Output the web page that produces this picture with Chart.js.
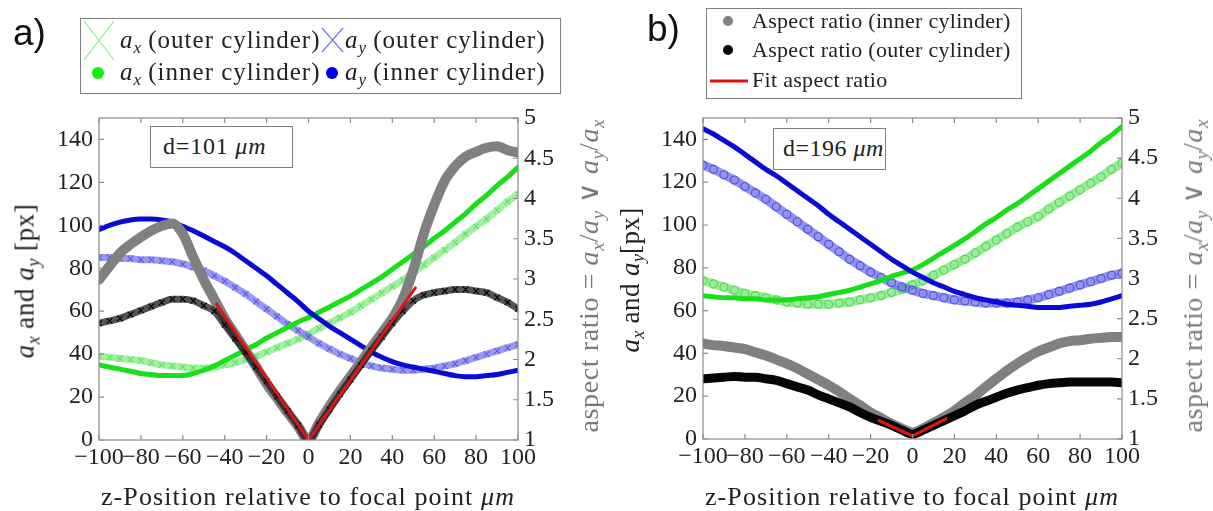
<!DOCTYPE html>
<html><head><meta charset="utf-8">
<script src="https://cdn.jsdelivr.net/npm/chart.js@4.4.1/dist/chart.umd.min.js"></script>
<style>
body{margin:0;background:#fff;}
#wrap{position:relative;width:1213px;height:511px;overflow:hidden;background:#fff;font-family:'Liberation Serif',serif;color:#222;}
canvas{position:absolute;top:0;}
.lab{position:absolute;font-family:'Liberation Sans',Arial,sans-serif;font-size:37px;color:#111;line-height:1;}
.box{position:absolute;border:1px solid #808080;background:#fff;}
.t{position:absolute;white-space:nowrap;font-size:25px;letter-spacing:1px;line-height:1;}
.tb{position:absolute;white-space:nowrap;font-size:22px;letter-spacing:0.3px;line-height:1;}
sub{font-size:68%;vertical-align:-0.3em;line-height:0;letter-spacing:0;}
.yt{position:absolute;white-space:nowrap;font-size:28px;letter-spacing:0.6px;line-height:1;transform:translate(-50%,-50%) rotate(-90deg);}
.xt{position:absolute;white-space:nowrap;font-size:26px;letter-spacing:1.1px;line-height:1;transform:translate(-50%,-50%);}
svg{position:absolute;overflow:visible;}
</style>
</head><body>
<div id="wrap">
  <canvas id="ca" width="606" height="511" style="left:0"></canvas>
  <canvas id="cb" width="607" height="511" style="left:606px"></canvas>

  <div class="lab" style="left:13px;top:14px">a)</div>
  <div class="lab" style="left:647px;top:10px">b)</div>

  <!-- legend a -->
  <div class="box" style="left:80px;top:18px;width:479px;height:74px"></div>
  <div class="t" style="left:120px;top:27px"><i>a</i><sub><i>x</i></sub> (outer cylinder)</div>
  <div class="t" style="left:345px;top:27px"><i>a</i><sub><i>y</i></sub> (outer cylinder)</div>
  <div class="t" style="left:120px;top:59px"><i>a</i><sub><i>x</i></sub> (inner cylinder)</div>
  <div class="t" style="left:345px;top:59px"><i>a</i><sub><i>y</i></sub> (inner cylinder)</div>

  <!-- legend b -->
  <div class="box" style="left:706px;top:8px;width:314px;height:89px"></div>
  <div class="tb" style="left:752px;top:10px">Aspect ratio (inner cylinder)</div>
  <div class="tb" style="left:752px;top:39px">Aspect ratio (outer cylinder)</div>
  <div class="tb" style="left:752px;top:69px">Fit aspect ratio</div>

  <!-- annotations -->
  <div class="box" style="left:150px;top:126px;width:141px;height:40px"></div>
  <div class="t" style="left:163px;top:134px;font-size:24px;letter-spacing:0.8px">d=101 <i>μm</i></div>
  <div class="box" style="left:773px;top:128px;width:111px;height:40px"></div>
  <div class="t" style="left:783px;top:136px;font-size:24px;letter-spacing:0.5px">d=196 <i>μm</i></div>

  <!-- axis titles -->
  <div class="xt" style="left:308px;top:497px">z-Position relative to focal point <i>μm</i></div>
  <div class="xt" style="left:912px;top:497px">z-Position relative to focal point <i>μm</i></div>
  <div class="yt" style="left:25px;top:281px;font-size:27px;letter-spacing:0.6px"><i>a</i><sub><i>x</i></sub> and <i>a</i><sub><i>y</i></sub> [px]</div>
  <div class="yt" style="left:630px;top:280px;font-size:27px;letter-spacing:0.4px"><i>a</i><sub><i>x</i></sub> and <i>a</i><sub><i>y</i></sub>[px]</div>
  <div class="yt" style="left:589px;top:276px;color:#7a7a7a">aspect ratio = <i>a</i><sub><i>x</i></sub>/<i>a</i><sub><i>y</i></sub> ∨ <i>a</i><sub><i>y</i></sub>/<i>a</i><sub><i>x</i></sub></div>
  <div class="yt" style="left:1193px;top:276px;color:#7a7a7a">aspect ratio = <i>a</i><sub><i>x</i></sub>/<i>a</i><sub><i>y</i></sub> ∨ <i>a</i><sub><i>y</i></sub>/<i>a</i><sub><i>x</i></sub></div>

  <svg style="left:0;top:0" width="1" height="1">
    <path d="M84 21 L114 60 M84 60 L114 21" stroke="#86ec86" stroke-width="1.2" fill="none"/>
    <path d="M322 28 L343 52 M322 52 L343 28" stroke="#7777ee" stroke-width="1.2" fill="none"/>
    <circle cx="98" cy="73" r="6" fill="#11ee11"/>
    <circle cx="332" cy="73" r="6" fill="#0000ee"/>
    <circle cx="728" cy="21" r="5" fill="#808080"/>
    <circle cx="728" cy="50" r="5" fill="#000"/>
    <path d="M710 81 L748 81" stroke="#e01010" stroke-width="3"/>
  </svg>
</div>
<script>
// ---- categories / ticks ----
const Z = [-100,-95,-90,-85,-80,-75,-70,-65,-60,-55,-50,-45,-40,-35,-30,-25,-20,-15,-10,-5,0,5,10,15,20,25,30,35,40,45,50,55,60,65,70,75,80,85,90,95,100];
const X_TICKS = [-100,-80,-60,-40,-20,0,20,40,60,80,100];
const X_TICK_LABELS = ['\u2212100','\u221280','\u221260','\u221240','\u221220','0','20','40','60','80','100'];
const Y_TICKS = [0,20,40,60,80,100,120,140];
const Y_TICK_LABELS = ['0','20','40','60','80','100','120','140'];
const AR_TICKS = [1,1.5,2,2.5,3,3.5,4,4.5,5];
const AR_TICK_LABELS = ['1','1.5','2','2.5','3','3.5','4','4.5','5'];

// ---- panel a (d=101 um) ----
const A_AX_INNER = [35,34,33,32,31,30.5,30,30,30,31,32.5,34.5,37,39.5,42,44.5,47.5,50,52.5,55,57,59.5,62,64.5,67,70,73,76,79.5,83,86.5,90,94,97.5,101.5,105.5,110,114,118.5,122.5,127];
const A_AX_OUTER = [39,38.5,38,37.5,37,36,35,34.5,34,33.5,33.5,34,35,36,37.5,39,41,43,45,47,49.5,52,54.5,57,59.5,62.5,65.5,68.5,71.5,74.5,78,81.5,85,88.5,92,96,99.5,103,107,111,114.5];
const A_AY_INNER = [98,100,101.5,102.5,103,103,102.5,101.5,99.5,97.5,95,92.5,90,87,83.5,80,76.5,72.5,68.5,64.5,60,56.5,53,50,47,44,41,38.5,36.5,35,34,33,32,31,30,29.5,29.5,30,30.5,31.5,32.5];
const A_AY_OUTER = [85,85,84.5,84.5,84,84,83.5,83,82,80.5,79,76.5,74,71,68,64.5,61,57.5,54,51,48,45,42.5,40,38,36,34.5,33.5,33,32.5,32.5,33,33.5,34.5,35.5,37,38.5,40,41.5,43,44.5];
const A_AR_INNER = [2.99,3.16,3.32,3.43,3.52,3.60,3.66,3.69,3.56,3.27,2.99,2.75,2.51,2.31,2.11,1.91,1.70,1.52,1.34,1.17,1.0,1.21,1.42,1.61,1.79,1.97,2.15,2.33,2.51,2.75,3.11,3.56,3.92,4.22,4.40,4.52,4.58,4.63,4.65,4.60,4.57];
const A_AR_OUTER = [2.45,2.48,2.51,2.56,2.61,2.66,2.71,2.75,2.75,2.73,2.67,2.6,2.43,2.26,2.09,1.91,1.73,1.54,1.36,1.18,1.0,1.19,1.38,1.57,1.75,1.93,2.11,2.28,2.45,2.6,2.73,2.80,2.83,2.85,2.87,2.87,2.85,2.83,2.77,2.71,2.63];
const A_FIT_Z = [-44,0,51];
const A_FIT_AR = [2.69,1.0,2.89];

// ---- panel b (d=196 um) ----
const B_AX_INNER = [67,66.5,66,66,65.5,65.5,65,65,65,65.5,66,66.5,67.5,68.5,69.5,71,72.5,74,76,77.5,79,81.5,84.5,87.5,90.5,93.5,97,100.5,103.5,107,110,113.5,117,120.5,124,127.5,131,134.5,138.5,142,146];
const B_AX_OUTER = [74,72.5,71,69.5,68,67,66,65,64,63.5,63,63,63,63.5,64,65,66,67,68.5,70,72,74,76.5,79,81.5,84,87,90,93,96,99,101.5,104,107.5,110.5,113.5,116.5,119.5,122.5,126,129];
const B_AY_INNER = [145,142.5,139.5,136.5,133,129.5,126,123,119.5,116,112.5,109,105,101.5,98,94.5,91,87.5,84,81,78,75.5,73,71,69,67.5,66,65,64,63,62.5,62,61.5,61.5,61.5,62,62.5,63,64,65.5,67];
const B_AY_OUTER = [128,126,123.5,121,118,115,112,108.5,105,101.5,98,94.5,91,87.5,84,81,78,75.5,73,71,69.5,68,67,66,65,64.5,64,63.5,63.5,63.5,64,65,66,67.5,69,70.5,72,73.5,75,76.5,77.5];
const B_AR_INNER = [2.19,2.17,2.16,2.14,2.12,2.08,2.04,1.99,1.94,1.88,1.81,1.74,1.67,1.59,1.50,1.42,1.33,1.26,1.19,1.13,1.08,1.13,1.20,1.27,1.35,1.45,1.54,1.65,1.75,1.85,1.94,2.02,2.09,2.14,2.19,2.22,2.23,2.25,2.26,2.27,2.27];
const B_AR_OUTER = [1.75,1.76,1.77,1.78,1.77,1.77,1.75,1.73,1.69,1.65,1.61,1.55,1.50,1.45,1.40,1.33,1.27,1.22,1.17,1.11,1.06,1.11,1.17,1.23,1.29,1.35,1.42,1.47,1.52,1.57,1.61,1.64,1.67,1.69,1.70,1.71,1.71,1.71,1.71,1.71,1.70];
const B_FIT_Z = [-16,0,16];
const B_FIT_AR = [1.23,1.04,1.25];

const FONT = {family:"'Liberation Serif', serif", size:24};
const pts = (xs, ys) => xs.map((x,i)=>({x, y: ys[i]}));

function band(xs, ys, axis, color, width, extra){
  return Object.assign({
    data: pts(xs, ys), yAxisID: axis, showLine: true,
    borderColor: color, borderWidth: width, pointRadius: 0,
    cubicInterpolationMode: 'monotone', borderCapStyle: 'round', borderJoinStyle: 'round'
  }, extra || {});
}
function markBand(xs, ys, axis, lineColor, markColor, width, style){
  return band(xs, ys, axis, lineColor, width, {
    pointStyle: style, pointRadius: 4, pointBorderColor: markColor, pointBorderWidth: 1.1,
    pointBackgroundColor: 'rgba(0,0,0,0)'
  });
}

const frame = {
  id: 'frame',
  afterDatasetsDraw(chart){
    const {ctx, chartArea: a, scales} = chart;
    ctx.save();
    ctx.strokeStyle = '#8a8a8a'; ctx.lineWidth = 1.2;
    ctx.strokeRect(a.left, a.top, a.right - a.left, a.bottom - a.top);
    ctx.beginPath();
    scales.x.ticks.forEach(t => { const p = scales.x.getPixelForValue(t.value);
      ctx.moveTo(p, a.bottom); ctx.lineTo(p, a.bottom - 5); ctx.moveTo(p, a.top); ctx.lineTo(p, a.top + 5); });
    scales.y.ticks.forEach(t => { const p = scales.y.getPixelForValue(t.value);
      ctx.moveTo(a.left, p); ctx.lineTo(a.left + 5, p); });
    scales.y1.ticks.forEach(t => { const p = scales.y1.getPixelForValue(t.value);
      ctx.moveTo(a.right, p); ctx.lineTo(a.right - 5, p); });
    ctx.stroke();
    ctx.restore();
  }
};

function makeChart(id, geom, datasets){
  const tickOpts = (labels, vals) => ({
    color: '#222', font: FONT, padding: 6, autoSkip: false, maxRotation: 0, minRotation: 0,
    callback: (v) => labels[vals.indexOf(v)]
  });
  return new Chart(document.getElementById(id), {
    type: 'scatter',
    data: { datasets },
    options: {
      responsive: false, animation: false, devicePixelRatio: 1,
      layout: { padding: { top: geom.top, left: 0, right: 0, bottom: 0 } },
      plugins: { legend: { display: false }, tooltip: { enabled: false } },
      scales: {
        x: { type: 'linear', min: -100, max: 100,
             afterBuildTicks: s => { s.ticks = X_TICKS.map(v => ({value: v})); },
             afterFit: s => { s.height = geom.xh; },
             ticks: Object.assign(tickOpts(X_TICK_LABELS, X_TICKS), {padding: 3}),
             grid: { display: false, drawTicks: false }, border: { display: false } },
        y: { type: 'linear', position: 'left', min: 0, max: 150,
             afterBuildTicks: s => { s.ticks = Y_TICKS.map(v => ({value: v})); },
             afterFit: s => { s.width = geom.yl; },
             ticks: tickOpts(Y_TICK_LABELS, Y_TICKS),
             grid: { display: false, drawTicks: false }, border: { display: false } },
        y1: { type: 'linear', position: 'right', min: 1, max: 5,
             afterBuildTicks: s => { s.ticks = AR_TICKS.map(v => ({value: v})); },
             afterFit: s => { s.width = geom.yr; },
             ticks: tickOpts(AR_TICK_LABELS, AR_TICKS),
             grid: { display: false, drawTicks: false }, border: { display: false } }
      }
    },
    plugins: [frame]
  });
}

const RED = '#e01414';
makeChart('ca', {top: 118, xh: 71, yl: 99, yr: 88}, [
  band(A_FIT_Z, A_FIT_AR, 'y1', RED, 3, {cubicInterpolationMode: 'default', tension: 0}),
  markBand(Z, A_AR_OUTER, 'y1', 'rgba(25,25,25,0.75)', '#000', 7, 'crossRot'),
  band(Z, A_AR_INNER, 'y1', '#808080', 10),
  band(Z, A_AY_INNER, 'y', '#0a0ad8', 5),
  band(Z, A_AX_INNER, 'y', '#18e018', 5),
  markBand(Z, A_AY_OUTER, 'y', 'rgba(110,110,235,0.7)', '#5a5ae6', 7, 'crossRot'),
  markBand(Z, A_AX_OUTER, 'y', 'rgba(120,235,120,0.7)', '#66e066', 7, 'crossRot')
]);
makeChart('cb', {top: 118, xh: 72, yl: 97, yr: 91}, [
  band(B_FIT_Z, B_FIT_AR, 'y1', RED, 3, {cubicInterpolationMode: 'default', tension: 0}),
  band(Z, B_AR_OUTER, 'y1', '#050505', 9),
  band(Z, B_AR_INNER, 'y1', '#808080', 10),
  band(Z, B_AY_INNER, 'y', '#0a0ad8', 5),
  band(Z, B_AX_INNER, 'y', '#18e018', 5),
  markBand(Z, B_AY_OUTER, 'y', 'rgba(100,100,235,0.7)', '#4c4ce0', 9, 'circle'),
  markBand(Z, B_AX_OUTER, 'y', 'rgba(110,230,110,0.7)', '#4ed84e', 9, 'circle')
]);
</script>
</body></html>
